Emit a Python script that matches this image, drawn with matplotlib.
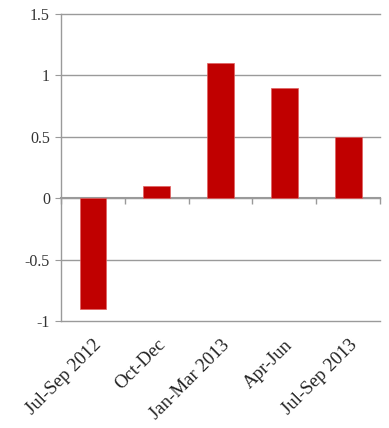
import numpy as np
import matplotlib
matplotlib.use("Agg")
import matplotlib.pyplot as plt
from matplotlib.ticker import FuncFormatter

# data
categories = ["Jul-Sep 2012", "Oct-Dec", "Jan-Mar 2013", "Apr-Jun", "Jul-Sep 2013"]
values = [-0.9, 0.1, 1.1, 0.9, 0.5]
y_ticks = [-1, -0.5, 0, 0.5, 1, 1.5]

BAR_COLOR = "#C00000"
GRID_COLOR = "#9a9a9a"

plt.rcParams["font.family"] = ["Liberation Serif", "DejaVu Serif"]

fig = plt.figure(figsize=(3.89, 4.28), dpi=100)
ax = fig.add_axes([0.157, 0.25, 0.820, 0.717])

x = np.arange(len(categories))
ax.bar(x, values, width=0.42, color=BAR_COLOR, edgecolor="#e06060", linewidth=0.5, zorder=3)

ax.set_xlim(-0.5, len(categories) - 0.5)
ax.set_ylim(y_ticks[0], y_ticks[-1])
ax.set_yticks(y_ticks)
ax.yaxis.set_major_formatter(FuncFormatter(lambda v, p: f"{v:g}"))
ax.grid(axis="y", color=GRID_COLOR, linewidth=1.0, zorder=0)
ax.set_axisbelow(True)
for gl in ax.get_ygridlines():
    gl.set_clip_on(False)

for s in ["top", "right", "bottom"]:
    ax.spines[s].set_visible(False)
ax.spines["left"].set_color(GRID_COLOR)
ax.spines["left"].set_linewidth(1.0)
ax.tick_params(axis="y", direction="out", length=4, color=GRID_COLOR,
               labelsize=11.5, labelcolor="#333333", pad=4)

ax.set_xticks(x)
ax.set_xticklabels(categories, rotation=45, ha="right", rotation_mode="anchor",
                   fontsize=13.5, color="#222222")
ax.tick_params(axis="x", length=0, pad=11)

# category axis drawn at zero with ticks between categories
ymin, ymax = ax.get_ylim()
zero_frac = (0 - ymin) / (ymax - ymin)
sec = ax.secondary_xaxis(zero_frac)
sec.set_xticks(np.arange(len(categories) + 1) - 0.5)
sec.set_xticklabels([])
sec.tick_params(direction="out", length=4, color=GRID_COLOR, width=1.0)
sec.spines["bottom"].set_color(GRID_COLOR)
sec.spines["bottom"].set_linewidth(1.5)

fig.savefig("out.png", dpi=100)
